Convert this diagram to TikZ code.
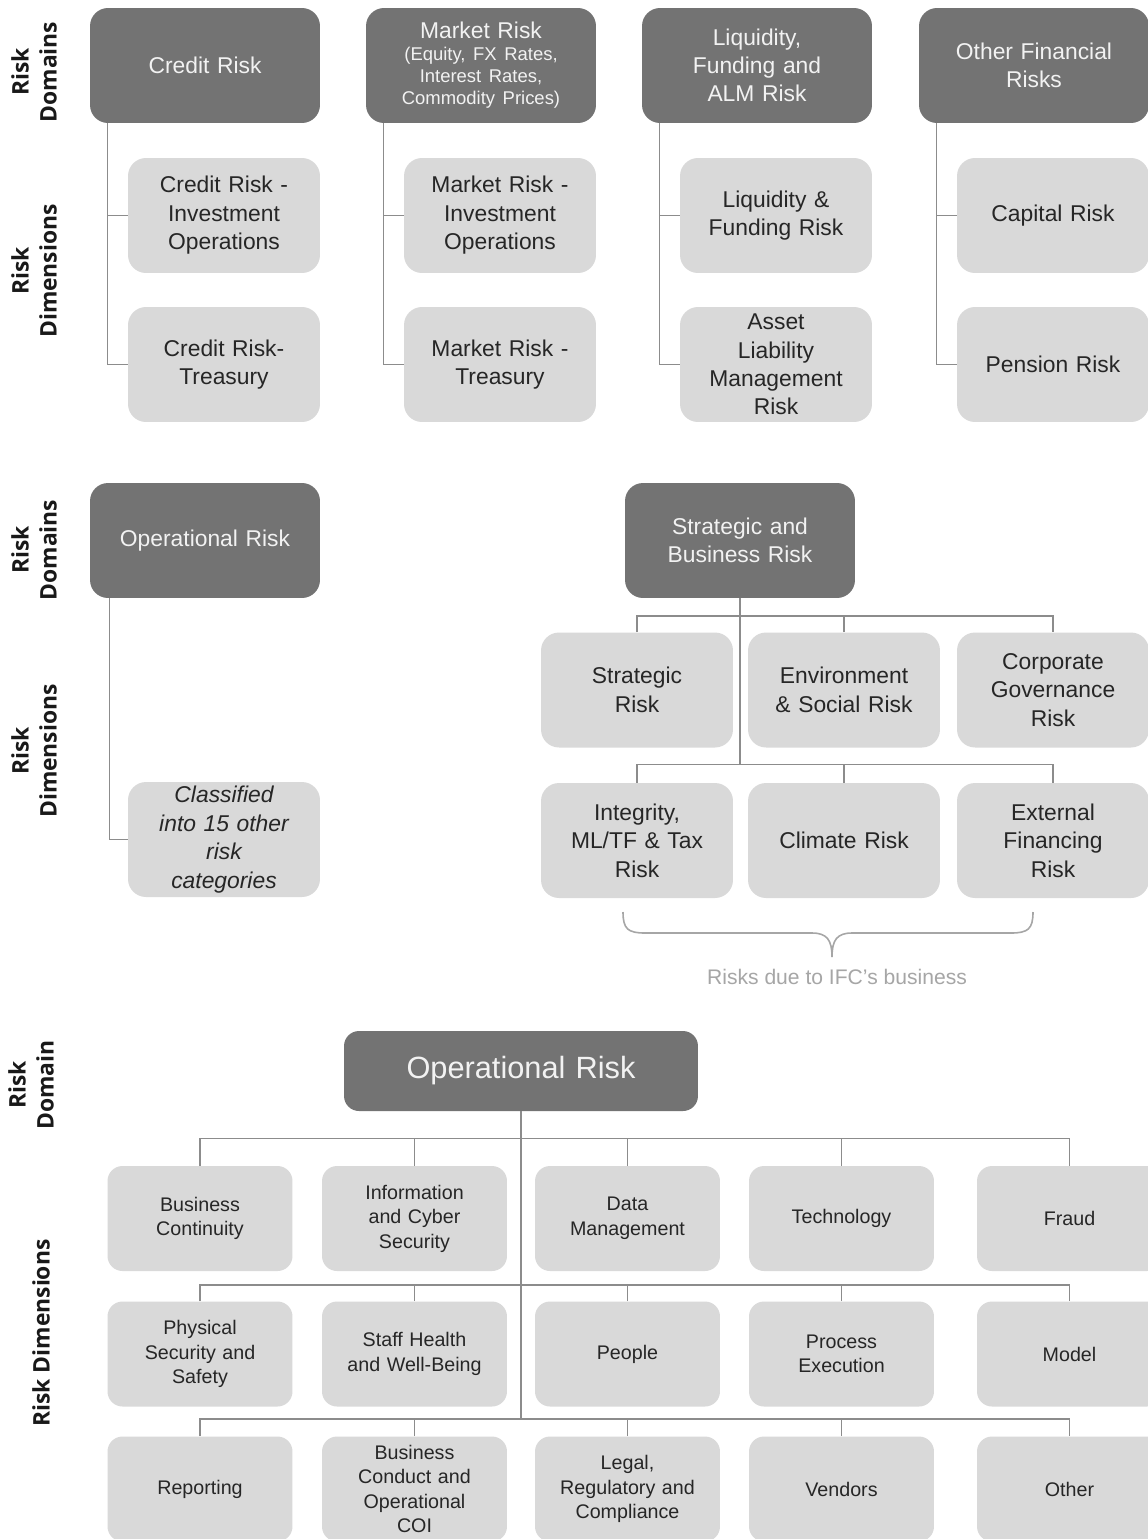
\documentclass[tikz,border=0pt]{standalone}
\usepackage{fontspec}
\setmainfont{Liberation Sans}
\newfontfamily\sidefont{Open Sans}
\usetikzlibrary{calc, positioning}

\definecolor{domgray}{HTML}{737373}
\definecolor{dimgray}{HTML}{D9D9D9}
\definecolor{linegray}{HTML}{8C8C8C}
\definecolor{domtext}{HTML}{F2F2F2}
\definecolor{dimtext}{HTML}{262626}
\definecolor{notegray}{HTML}{A6A6A6}

\tikzset{
    domainbox/.style={rectangle, rounded corners=0.36cm, fill=domgray, text=domtext,
        minimum width=4.6cm, minimum height=2.3cm, text width=4.4cm, align=center,
        inner sep=0pt, font=\fontsize{13}{16}\selectfont},
    dimbox/.style={rectangle, rounded corners=0.36cm, fill=dimgray, text=dimtext,
        minimum width=3.84cm, minimum height=2.3cm, text width=3.6cm, align=center,
        inner sep=0pt, font=\fontsize{13}{16.2}\selectfont},
    opbox/.style={rectangle, rounded corners=0.3cm, fill=dimgray, text=dimtext,
        minimum width=3.7cm, minimum height=2.1cm, text width=3.5cm, align=center,
        inner sep=0pt, font=\fontsize{11.2}{14}\selectfont},
    sidetext/.style={rotate=90, align=center, text=black!90,
        font=\sidefont\bfseries\fontsize{13}{16}\selectfont},
    link/.style={draw=linegray, line width=0.9pt},
    bracket/.style={draw=notegray, line width=0.9pt},
    note/.style={text=notegray, font=\fontsize{12}{14}\selectfont}
}

\begin{document}
\begin{tikzpicture}[x=0.02cm, y=-0.02cm]
\useasboundingbox (0,0) rectangle (1148,1539);
\clip (0,0) rectangle (1148,1539);
\fill[white] (0,0) rectangle (1148,1539);

\node[sidetext] (topdom) at (34,72) {Risk\\Domains};
\node[sidetext] (topdim) at (34,271) {Risk\\Dimensions};
\node[sidetext] (middom) at (34,550) {Risk\\Domains};
\node[sidetext] (middim) at (34,751) {Risk\\Dimensions};
\node[sidetext] (lowdom) at (31,1085) {Risk\\Domain};
\node[sidetext] (lowdim) at (41,1333) {Risk Dimensions};

\node[domainbox] (credit) at (205,65.5) {Credit Risk};
\node[domainbox] (market) at (481,65.5) {Market Risk\par
    {\fontsize{10.5}{12.5}\selectfont (Equity, FX Rates,\\Interest Rates,\\Commodity Prices)\par}};
\node[domainbox] (liquid) at (757,65.5) {Liquidity,\\Funding and\\ALM Risk};
\node[domainbox] (otherfin) at (1034,65.5) {Other Financial\\Risks};

\node[dimbox] (creditinv) at (224,215.5) {Credit Risk -\\Investment\\Operations};
\node[dimbox] (credittre) at (224,364.5) {Credit Risk-\\Treasury};
\node[dimbox] (marketinv) at (500,215.5) {Market Risk -\\Investment\\Operations};
\node[dimbox] (markettre) at (500,364.5) {Market Risk -\\Treasury};
\node[dimbox] (liqfund) at (776,215.5) {Liquidity \&\\Funding Risk};
\node[dimbox] (alm) at (776,364.5) {Asset\\Liability\\Management\\Risk};
\node[dimbox] (capital) at (1053,215.5) {Capital Risk};
\node[dimbox] (pension) at (1053,364.5) {Pension Risk};

\foreach \d/\a/\b in
{credit/creditinv/credittre, market/marketinv/markettre, liquid/liqfund/alm, otherfin/capital/pension}
{
    \draw[link] ([xshift=0.36cm]\d.south west) |- (\a.west);
    \draw[link] ([xshift=0.36cm]\d.south west) |- (\b.west);
}

\node[domainbox] (operdom) at (205,540.5) {Operational Risk};
\node[dimbox, font=\fontsize{13}{16.2}\selectfont\itshape] (classified) at (224,839.5) {Classified\\into 15 other\\risk\\categories};
\draw[link] ([xshift=0.4cm]operdom.south west) |- (classified.west);

\node[domainbox] (stratbus) at (740,540.5) {Strategic and\\Business Risk};
\node[dimbox] (strategic) at (637,690) {Strategic\\Risk};
\node[dimbox] (envsoc) at (844,690) {Environment\\\& Social Risk};
\node[dimbox] (corpgov) at (1053,690) {Corporate\\Governance\\Risk};
\node[dimbox] (integrity) at (637,840.5) {Integrity,\\ML/TF \& Tax\\Risk};
\node[dimbox] (climate) at (844,840.5) {Climate Risk};
\node[dimbox] (extfin) at (1053,840.5) {External\\Financing\\Risk};

\draw[link] (stratbus.south) -- ([yshift=0.36cm]stratbus.south |- integrity.north);
\draw[link] (strategic.north) -- ++(0,-16) -| (corpgov.north);
\draw[link] (envsoc.north) -- ++(0,-16);
\draw[link] (integrity.north) -- ++(0,-18) -| (extfin.north);
\draw[link] (climate.north) -- ++(0,-18);

\draw[bracket] (623,912) .. controls (623,929) and (628,933) .. (645,933) -- (812,933)
    .. controls (827,933) and (832,940) .. (832,957)
    .. controls (832,940) and (837,933) .. (852,933) -- (1011,933)
    .. controls (1028,933) and (1033,929) .. (1033,912);
\node[note] (ifcnote) at (837,977) {Risks due to IFC’s business};

\node[domainbox, minimum width=7.08cm, minimum height=1.6cm, text width=6.9cm,
    rounded corners=0.3cm, font=\fontsize{17.5}{21}\selectfont] (opdom) at (521,1071) {Operational Risk};

\node[opbox] (op11) at (200,1218.5) {Business\\Continuity};
\node[opbox] (op12) at (414.5,1218.5) {Information\\and Cyber\\Security};
\node[opbox] (op13) at (627.5,1218.5) {Data\\Management};
\node[opbox] (op14) at (841.5,1218.5) {Technology};
\node[opbox] (op15) at (1069.5,1218.5) {Fraud};
\node[opbox] (op21) at (200,1354) {Physical\\Security and\\Safety};
\node[opbox] (op22) at (414.5,1354) {Staff Health\\and Well-Being};
\node[opbox] (op23) at (627.5,1354) {People};
\node[opbox] (op24) at (841.5,1354) {Process\\Execution};
\node[opbox] (op25) at (1069.5,1354) {Model};
\node[opbox] (op31) at (200,1489) {Reporting};
\node[opbox] (op32) at (414.5,1489) {Business\\Conduct and\\Operational\\COI};
\node[opbox] (op33) at (627.5,1489) {Legal,\\Regulatory and\\Compliance};
\node[opbox] (op34) at (841.5,1489) {Vendors};
\node[opbox] (op35) at (1069.5,1489) {Other};

\draw[link] (opdom.south) -- ([yshift=0.34cm]opdom.south |- op31.north);
\foreach \r/\g in
{1/27, 2/16, 3/17}
{
    \draw[link] (op\r1.north) -- ++(0,-\g) -| (op\r5.north);
    \foreach \c in {2,3,4}
    {
        \draw[link] (op\r\c.north) -- ++(0,-\g);
    }
}
\end{tikzpicture}
\end{document}
